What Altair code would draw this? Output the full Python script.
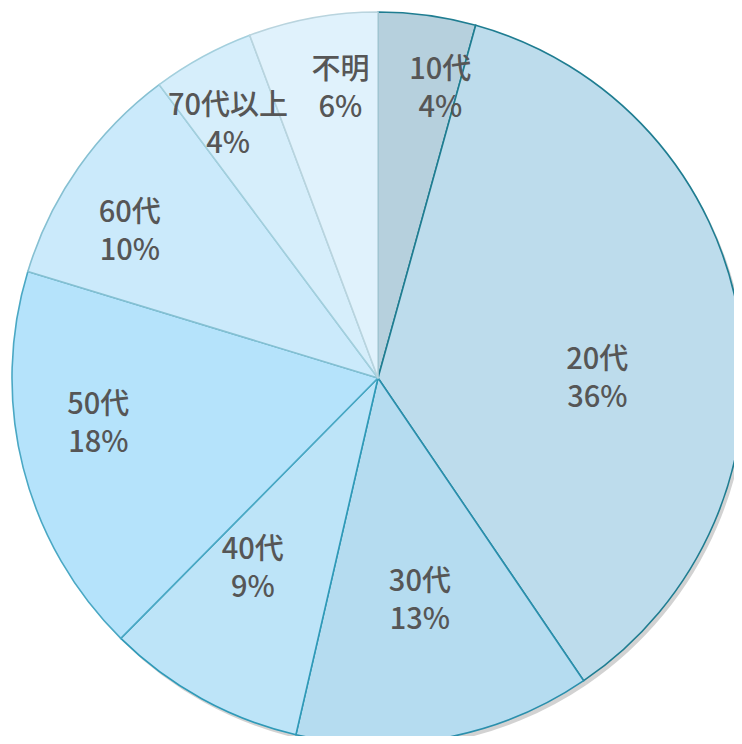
import altair as alt
import pandas as pd

categories = ["10代", "20代", "30代", "40代", "50代", "60代", "70代以上", "不明"]
values = [4.3, 36.2, 13.1, 8.8, 17.3, 10.1, 4.5, 5.7]
pct_labels = ["4%", "36%", "13%", "9%", "18%", "10%", "4%", "6%"]

fills = ["#b6d0dd", "#bddcec", "#b5dcf0", "#bde4f8", "#b5e3fb", "#cbeafb", "#d6eefb", "#e0f2fc"]
strokes = ["#1f7d91", "#1f7d91", "#2a8fac", "#2f9ab8", "#4aa8c4", "#86c0d2", "#a3cfdd", "#b9d4de"]
# label placement (layout): radius in px and angular nudge in degrees
label_radius = [314, 220, 208, 213, 281, 298, 311, 310]
label_nudge = [3.7, 4.7, -1.0, 7.2, 8.7, -1.5, -0.2, 3.3]

df = pd.DataFrame({
    "cat": categories,
    "value": values,
    "pct": pct_labels,
    "order": list(range(len(categories))),
    "fill": fills,
    "stroke": strokes,
    "lr": label_radius,
    "nudge": label_nudge,
})
df["label"] = df["cat"] + "\n" + df["pct"]
total = float(sum(values))

CX, CY, R = 370, 370, 366

base = alt.Chart(df).transform_window(
    cum="sum(value)", sort=[alt.SortField("order")], frame=[None, 0]
).transform_calculate(
    start="datum.cum - datum.value",
    mid=f"datum.cum - datum.value / 2 + datum.nudge * {total} / 360",
)

theta_scale = alt.Scale(domain=[0, total], range=[0, 6.283185307179586])

shadow = base.mark_arc(x=CX + 3, y=CY + 4, outerRadius=R, fill="#8f8f8f", opacity=0.4, strokeWidth=0).encode(
    theta=alt.Theta("start:Q", scale=theta_scale),
    theta2="cum:Q",
)

arcs = base.mark_arc(x=CX, y=CY, outerRadius=R, strokeWidth=1.6).encode(
    theta=alt.Theta("start:Q", scale=theta_scale),
    theta2="cum:Q",
    fill=alt.Fill("fill:N", scale=None),
    stroke=alt.Stroke("stroke:N", scale=None),
)

text = base.mark_text(
    x=CX, y=CY,
    font="Noto Sans CJK JP",
    fontSize=29,
    fontWeight=500,
    color="#565656",
    lineBreak="\n",
    lineHeight=38,
    baseline="middle",
).encode(
    theta=alt.Theta("mid:Q", scale=theta_scale),
    radius=alt.Radius("lr:Q", scale=None),
    text="label:N",
)

chart = alt.layer(shadow, arcs, text).properties(
    width=726, height=728,
    autosize=alt.AutoSizeParams(type="none"),
    padding=0,
).configure_view(stroke=None).configure(background="white")

chart.save("out.html", embed_options={"renderer": "svg", "actions": False})
